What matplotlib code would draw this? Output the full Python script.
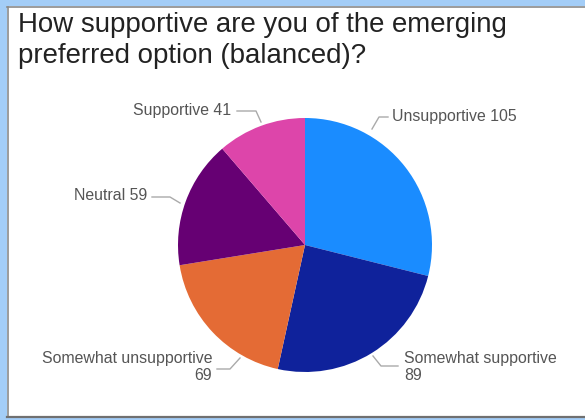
import matplotlib
matplotlib.use("Agg")
import matplotlib.pyplot as plt
from matplotlib.patches import Rectangle

# ---- data ----
categories = ["Unsupportive", "Somewhat supportive", "Somewhat unsupportive", "Neutral", "Supportive"]
values = [105, 89, 69, 59, 41]
colors = ["#1a8cff", "#0f229b", "#e46b35", "#660073", "#dd45aa"]
title_lines = ["How supportive are you of the emerging", "preferred option (balanced)?"]

W, H = 585, 420
fig = plt.figure(figsize=(W / 100, H / 100), dpi=100)
ax = fig.add_axes([0, 0, 1, 1])

def Y(y):
    return H - y

# pie
cx, cy, r = 305, 245, 127
ax.pie(values, colors=colors, startangle=90, counterclock=False,
       center=(cx, Y(cy)), radius=r, frame=True,
       wedgeprops=dict(linewidth=0, zorder=2))
ax.set_xlim(0, W)
ax.set_ylim(0, H)
ax.set_aspect("equal")
ax.axis("off")

# frame
blue = "#a3cdf7"
grey = "#8a8a8a"
ax.add_patch(Rectangle((0, 0), W, H, facecolor=blue, edgecolor="none", zorder=0))
ax.add_patch(Rectangle((7, Y(416)), W - 7, 416 - 6, facecolor="white", edgecolor="none", zorder=0.5))
ax.plot([7.5, 7.5], [Y(6.5), Y(416.5)], color=grey, lw=1.2, zorder=1)
ax.plot([7, W], [Y(6.5), Y(6.5)], color=grey, lw=1.2, zorder=1)
ax.plot([7, W], [Y(416.5), Y(416.5)], color="#707070", lw=1.6, zorder=1)

# title
for i, line in enumerate(title_lines):
    ax.text(18, Y(32 + 31 * i), line, fontsize=19.9, family="Liberation Sans", color="#222222",
            ha="left", va="baseline", zorder=3)

# label layout: (text x, text y, ha, leader path in pixels)
layout = {
    "Unsupportive": (392, 117, "left", [(372, 129), (379, 117), (388, 117)]),
    "Somewhat supportive": (404, 358, "left", [(373, 356), (381, 366), (398, 366)]),
    "Somewhat unsupportive": (212, 358, "right", [(240, 358), (230, 369), (217, 369)]),
    "Neutral": (147, 196, "right", [(180, 203), (170, 197), (152, 197)]),
    "Supportive": (231, 111, "right", [(261, 122), (256, 111), (237, 111)]),
}
lab_color = "#555555"
fs = 11.4
for cat, val in zip(categories, values):
    tx, ty, ha, path = layout[cat]
    xs = [p[0] for p in path]
    ys = [Y(p[1]) for p in path]
    ax.plot(xs, ys, color="#aaaaaa", lw=1, zorder=2)
    if cat.startswith("Somewhat"):
        ax.text(tx, Y(ty), cat, fontsize=fs, family="Liberation Sans", color=lab_color,
                ha=ha, va="center", zorder=3)
        ax.text(tx, Y(ty + 18), str(val), fontsize=fs, family="Liberation Sans", color=lab_color,
                ha=ha, va="center", zorder=3)
    else:
        ax.text(tx, Y(ty), f"{cat} {val}", fontsize=fs, family="Liberation Sans",
                color=lab_color, ha=ha, va="center", zorder=3)

fig.savefig("out.png", dpi=100)
